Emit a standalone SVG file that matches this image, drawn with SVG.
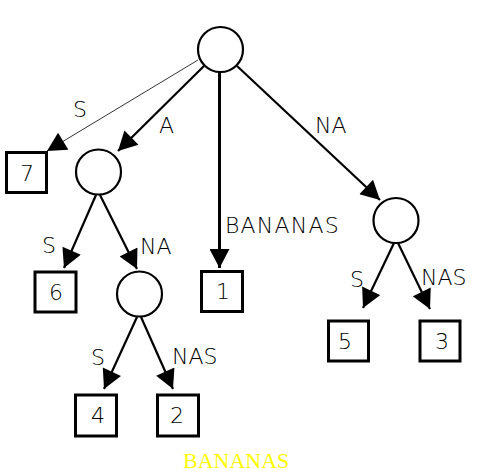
<svg xmlns="http://www.w3.org/2000/svg" width="479" height="474" viewBox="0 0 479 474">
<style>
.node circle{fill:#fff;stroke:#000;stroke-width:2.2}
.leaf rect{fill:#fff;stroke:#000;stroke-width:3}
.leaf text{font-family:"DejaVu Sans",sans-serif;font-weight:200;font-size:22px;text-anchor:middle;fill:#000}
.edges line{stroke:#000;stroke-width:2.2}
.edges line.thin{stroke-width:0.8}
.edges line.thick{stroke-width:3}
.lbl{font-family:"DejaVu Sans",sans-serif;font-weight:200;font-size:22px;fill:#000}
.title{font-family:"Liberation Serif",serif;font-size:22px;fill:#ffff00}
</style>
<defs>
<marker id="arr" markerUnits="userSpaceOnUse" markerWidth="20" markerHeight="20" refX="18" refY="9.5" orient="auto" viewBox="0 0 18 19">
<path d="M0,0 L18,9.5 L0,19 Z" fill="#000"/>
</marker>
</defs>
<rect width="479" height="474" fill="#fff"/>
<g class="edges">
<line class="thin" x1="198" y1="60" x2="47" y2="151" marker-end="url(#arr)"/>
<line x1="204" y1="66" x2="118" y2="151" marker-end="url(#arr)"/>
<line class="thick" x1="219.5" y1="72" x2="219.5" y2="268" marker-end="url(#arr)"/>
<line x1="237" y1="66" x2="380" y2="200" marker-end="url(#arr)"/>
<line x1="394" y1="243" x2="363" y2="308" marker-end="url(#arr)"/>
<line x1="398" y1="243" x2="430" y2="309" marker-end="url(#arr)"/>
<line x1="96" y1="195" x2="64" y2="268" marker-end="url(#arr)"/>
<line x1="100" y1="195" x2="137" y2="269" marker-end="url(#arr)"/>
<line x1="137" y1="317" x2="104" y2="389" marker-end="url(#arr)"/>
<line x1="141" y1="317" x2="173" y2="389" marker-end="url(#arr)"/>
</g>
<g class="edge-labels">
<text class="lbl" x="73" y="117">S</text>
<text class="lbl" x="159" y="133">A</text>
<text class="lbl" x="225" y="233" letter-spacing="1.2">BANANAS</text>
<text class="lbl" x="315" y="133">NA</text>
<text class="lbl" x="350" y="287">S</text>
<text class="lbl" x="421" y="285">NAS</text>
<text class="lbl" x="42" y="253">S</text>
<text class="lbl" x="140" y="254">NA</text>
<text class="lbl" x="91" y="365">S</text>
<text class="lbl" x="172" y="364">NAS</text>
</g>
<g id="n_root" class="node"><circle cx="220.5" cy="49.5" r="22.5"/></g>
<g id="n_A" class="node"><circle cx="98.5" cy="172" r="22.5"/></g>
<g id="n_NA" class="node"><circle cx="396" cy="220.5" r="22.5"/></g>
<g id="n_ANA" class="node"><circle cx="139.5" cy="294" r="22.5"/></g>
<g id="leaf7" class="leaf"><rect x="6.5" y="152.5" width="40" height="40"/><text x="27" y="181">7</text></g>
<g id="leaf1" class="leaf"><rect x="201.5" y="271.5" width="41" height="40"/><text x="223" y="299">1</text></g>
<g id="leaf6" class="leaf"><rect x="35" y="272" width="41" height="40"/><text x="56" y="300">6</text></g>
<g id="leaf5" class="leaf"><rect x="328.5" y="321" width="40" height="40"/><text x="345" y="349">5</text></g>
<g id="leaf3" class="leaf"><rect x="420" y="321" width="40" height="40"/><text x="442" y="349">3</text></g>
<g id="leaf4" class="leaf"><rect x="75.5" y="395" width="41" height="41"/><text x="98" y="423">4</text></g>
<g id="leaf2" class="leaf"><rect x="157.5" y="395" width="41" height="41"/><text x="177" y="423">2</text></g>
<text class="title" x="183" y="468">BANANAS</text>
</svg>
